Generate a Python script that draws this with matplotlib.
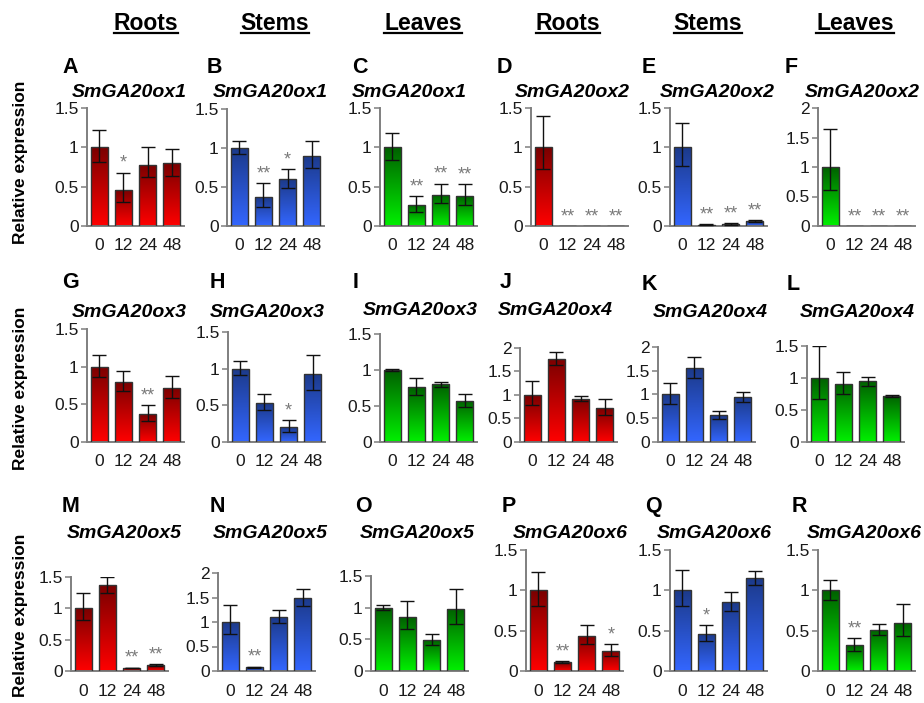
import matplotlib
matplotlib.use("Agg")
import matplotlib.pyplot as plt
import numpy as np
from matplotlib.colors import LinearSegmentedColormap
from matplotlib.lines import Line2D
from matplotlib.ticker import FuncFormatter, MultipleLocator

plt.rcParams["font.family"] = ["Liberation Sans", "DejaVu Sans"]

# ---------------------------------------------------------------- data
time_points = ["0", "12", "24", "48"]
tissue_headers = ["Roots", "Stems", "Leaves", "Roots", "Stems", "Leaves"]

panel_letters = list("ABCDEFGHIJKLMNOPQR")
gene_names = ["SmGA20ox1"] * 3 + ["SmGA20ox2"] * 3 + \
             ["SmGA20ox3"] * 3 + ["SmGA20ox4"] * 3 + \
             ["SmGA20ox5"] * 3 + ["SmGA20ox6"] * 3
panel_tissue = ["Roots", "Stems", "Leaves"] * 6

# relative expression (mean), lower / upper error, significance marks
mean_A = [1.00, 0.46, 0.78, 0.80]
lo_A = [0.19, 0.15, 0.16, 0.17]
hi_A = [0.22, 0.22, 0.23, 0.18]
sig_A = ["", "*", "", ""]

mean_B = [1.00, 0.37, 0.60, 0.90]
lo_B = [0.08, 0.12, 0.11, 0.16]
hi_B = [0.09, 0.18, 0.13, 0.19]
sig_B = ["", "**", "*", ""]

mean_C = [1.00, 0.27, 0.40, 0.38]
lo_C = [0.16, 0.09, 0.11, 0.11]
hi_C = [0.18, 0.11, 0.14, 0.15]
sig_C = ["", "**", "**", "**"]

mean_D = [1.00, 0.004, 0.003, 0.003]
lo_D = [0.28, 0.0, 0.0, 0.0]
hi_D = [0.40, 0.0, 0.0, 0.0]
sig_D = ["", "**", "**", "**"]

mean_E = [1.00, 0.015, 0.025, 0.06]
lo_E = [0.24, 0.004, 0.006, 0.01]
hi_E = [0.31, 0.005, 0.008, 0.01]
sig_E = ["", "**", "**", "**"]

mean_F = [1.00, 0.004, 0.003, 0.003]
lo_F = [0.39, 0.0, 0.0, 0.0]
hi_F = [0.65, 0.0, 0.0, 0.0]
sig_F = ["", "**", "**", "**"]

mean_G = [1.00, 0.80, 0.37, 0.72]
lo_G = [0.14, 0.12, 0.09, 0.13]
hi_G = [0.16, 0.14, 0.12, 0.16]
sig_G = ["", "", "**", ""]

mean_H = [1.00, 0.53, 0.20, 0.93]
lo_H = [0.09, 0.10, 0.07, 0.22]
hi_H = [0.10, 0.12, 0.10, 0.25]
sig_H = ["", "", "*", ""]

mean_I = [1.00, 0.76, 0.80, 0.57]
lo_I = [0.01, 0.11, 0.04, 0.08]
hi_I = [0.01, 0.13, 0.04, 0.09]
sig_I = ["", "", "", ""]

mean_J = [1.00, 1.77, 0.92, 0.72]
lo_J = [0.22, 0.14, 0.05, 0.15]
hi_J = [0.29, 0.15, 0.05, 0.19]
sig_J = ["", "", "", ""]

mean_K = [1.00, 1.55, 0.56, 0.94]
lo_K = [0.19, 0.20, 0.08, 0.10]
hi_K = [0.24, 0.23, 0.09, 0.11]
sig_K = ["", "", "", ""]

mean_L = [1.00, 0.91, 0.95, 0.72]
lo_L = [0.33, 0.16, 0.07, 0.01]
hi_L = [0.50, 0.18, 0.07, 0.01]
sig_L = ["", "", "", ""]

mean_M = [1.00, 1.37, 0.05, 0.09]
lo_M = [0.19, 0.12, 0.005, 0.015]
hi_M = [0.25, 0.13, 0.005, 0.02]
sig_M = ["", "", "**", "**"]

mean_N = [1.00, 0.08, 1.10, 1.50]
lo_N = [0.25, 0.01, 0.13, 0.17]
hi_N = [0.35, 0.01, 0.15, 0.17]
sig_N = ["", "**", "", ""]

mean_O = [1.00, 0.85, 0.49, 0.98]
lo_O = [0.04, 0.19, 0.08, 0.24]
hi_O = [0.04, 0.25, 0.09, 0.31]
sig_O = ["", "", "", ""]

mean_P = [1.00, 0.11, 0.44, 0.25]
lo_P = [0.20, 0.01, 0.11, 0.06]
hi_P = [0.23, 0.01, 0.13, 0.08]
sig_P = ["", "**", "", "*"]

mean_Q = [1.00, 0.46, 0.85, 1.15]
lo_Q = [0.20, 0.09, 0.11, 0.08]
hi_Q = [0.25, 0.11, 0.13, 0.09]
sig_Q = ["", "*", "", ""]

mean_R = [1.00, 0.32, 0.51, 0.60]
lo_R = [0.12, 0.07, 0.06, 0.17]
hi_R = [0.13, 0.09, 0.07, 0.23]
sig_R = ["", "**", "", ""]

panel_data = {
    "A": (mean_A, lo_A, hi_A, sig_A), "B": (mean_B, lo_B, hi_B, sig_B),
    "C": (mean_C, lo_C, hi_C, sig_C), "D": (mean_D, lo_D, hi_D, sig_D),
    "E": (mean_E, lo_E, hi_E, sig_E), "F": (mean_F, lo_F, hi_F, sig_F),
    "G": (mean_G, lo_G, hi_G, sig_G), "H": (mean_H, lo_H, hi_H, sig_H),
    "I": (mean_I, lo_I, hi_I, sig_I), "J": (mean_J, lo_J, hi_J, sig_J),
    "K": (mean_K, lo_K, hi_K, sig_K), "L": (mean_L, lo_L, hi_L, sig_L),
    "M": (mean_M, lo_M, hi_M, sig_M), "N": (mean_N, lo_N, hi_N, sig_N),
    "O": (mean_O, lo_O, hi_O, sig_O), "P": (mean_P, lo_P, hi_P, sig_P),
    "Q": (mean_Q, lo_Q, hi_Q, sig_Q), "R": (mean_R, lo_R, hi_R, sig_R),
}

# y-axis maximum of each panel
y_max = [1.5, 1.5, 1.5, 1.5, 1.5, 2.0,
         1.5, 1.5, 1.5, 2.0, 2.0, 1.5,
         1.5, 2.0, 1.5, 1.5, 1.5, 1.5]

# ---------------------------------------------------------------- layout (pixels)
W, H = 924, 703
fig = plt.figure(figsize=(W / 100, H / 100), dpi=100)

ax_left = [87, 227, 380, 531, 670, 818,
           87, 228, 380, 520, 658, 807,
           71, 218, 371, 526, 670, 818]
ax_top = [108, 109, 108, 108, 108, 108,
          329, 332, 334, 348, 347, 346,
          577, 573, 576, 550, 550, 550]
ax_bottom = [226] * 6 + [442] * 6 + [671] * 6
ax_width = 97

letter_x = [62, 207, 352, 497, 642, 785,
            62, 210, 353, 500, 642, 787,
            62, 210, 355, 502, 645, 792]
letter_base = [73] * 6 + [288, 288, 288, 288, 290, 290] + [512] * 6

title_x = [72, 213, 352, 515, 660, 805,
           72, 210, 363, 498, 653, 800,
           67, 213, 360, 513, 657, 807]
title_base = [97] * 6 + [317, 317, 315, 315, 317, 317] + [538] * 6

header_x = [146, 275, 423, 568, 708, 855]
header_base = 30

ylabel_y = [162, 388, 615]

tissue_colors = {
    "Roots": ("#ff0000", "#7a0000"),
    "Stems": ("#3366ff", "#1c3a8a"),
    "Leaves": ("#00f000", "#006000"),
}

axis_gray = "#7f7f7f"
gradient = np.linspace(0, 1, 256).reshape(-1, 1)


def fmt_tick(v, _pos):
    return "%g" % v


for k, letter in enumerate(panel_letters):
    means, lo, hi, sig = panel_data[letter]
    left, top, bottom = ax_left[k], ax_top[k], ax_bottom[k]
    ax = fig.add_axes([left / W, 1 - bottom / H, ax_width / W, (bottom - top) / H])

    x = np.arange(len(time_points))
    bright, dark = tissue_colors[panel_tissue[k]]
    cmap = LinearSegmentedColormap.from_list("grad_" + letter, [bright, dark])

    bars = ax.bar(x, means, width=0.7, facecolor="none",
                  edgecolor="#333333", linewidth=1.0, zorder=3)
    for b in bars:
        x0, w, h = b.get_x(), b.get_width(), b.get_height()
        im = ax.imshow(gradient, extent=[x0, x0 + w, 0, h], origin="lower",
                       cmap=cmap, aspect="auto", zorder=2, interpolation="bilinear")
        im.set_clip_path(b)

    has_err = np.array(hi) > 0
    if has_err.any():
        ax.errorbar(x[has_err], np.array(means)[has_err],
                    yerr=[np.array(lo)[has_err], np.array(hi)[has_err]],
                    fmt="none", ecolor="#111111", elinewidth=1.0,
                    capsize=5, capthick=1.0, zorder=4)

    for i, s in enumerate(sig):
        if s:
            ax.annotate(s, (x[i], means[i] + hi[i]), xytext=(0, 0.5),
                        textcoords="offset points", ha="center", va="bottom",
                        color="#7a7a7a", fontsize=13, annotation_clip=False)

    ax.set_xlim(-0.5, len(time_points) - 0.5)
    ax.set_ylim(0, y_max[k])
    ax.set_xticks(x)
    ax.set_xticklabels(time_points)
    ax.yaxis.set_major_locator(MultipleLocator(0.5))
    ax.yaxis.set_major_formatter(FuncFormatter(fmt_tick))
    ax.tick_params(axis="y", length=4, width=1.1, color=axis_gray,
                   labelsize=12.5, labelcolor="#1a1a1a", pad=2)
    ax.tick_params(axis="x", length=0, labelsize=12.5, labelcolor="#1a1a1a", pad=9)
    for side in ("top", "right"):
        ax.spines[side].set_visible(False)
    for side in ("left", "bottom"):
        ax.spines[side].set_color(axis_gray)
        ax.spines[side].set_linewidth(1.4)
    ax.set_facecolor("none")

    fig.text(letter_x[k] / W, 1 - letter_base[k] / H, letter,
             fontsize=15.5, fontweight="bold", va="baseline", ha="left")
    fig.text(title_x[k] / W, 1 - title_base[k] / H, gene_names[k],
             fontsize=14, fontweight="bold", style="italic",
             va="baseline", ha="left")

for yc in ylabel_y:
    fig.text(21 / W, 1 - yc / H, "Relative expression", rotation=90,
             ha="center", va="center", fontsize=12.5, fontweight="bold")

header_texts = []
for hx, name in zip(header_x, tissue_headers):
    t = fig.text(hx / W, 1 - header_base / H, name, ha="center",
                 va="baseline", fontsize=16.5, fontweight="bold")
    header_texts.append(t)

fig.canvas.draw()
renderer = fig.canvas.get_renderer()
for t in header_texts:
    bb = t.get_window_extent(renderer)
    y_line = (H - header_base - 3) / H
    fig.add_artist(Line2D([bb.x0 / W, bb.x1 / W], [y_line, y_line],
                          transform=fig.transFigure, color="black", linewidth=1.6))

fig.savefig("out.png", dpi=100)
